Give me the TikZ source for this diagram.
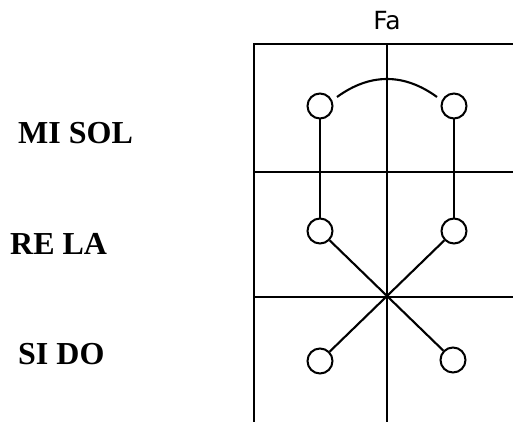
\documentclass[tikz,border=0pt]{standalone}
\usepackage{fontspec}
\setmainfont{Liberation Serif}
\newfontfamily\fasans{DejaVu Sans}
\begin{document}
\begin{tikzpicture}[x=1pt,y=-1pt,
  gridline/.style={line width=2.3pt},
  conn/.style={line width=2.1pt},
  hole/.style={circle,draw,line width=2pt,minimum size=25pt,inner sep=0pt,fill=white},
  notename/.style={font=\bfseries\fontsize{32}{32}\selectfont,inner sep=0pt,anchor=base west}]
\useasboundingbox (0,0) rectangle (513,422);
% grid
\coordinate (tl) at (254,44);
\coordinate (tr) at (513,44);
\coordinate (bl) at (254,422);
\coordinate (tc) at (387,44);
\coordinate (bc) at (387,422);
\coordinate (ml) at (254,172);
\coordinate (mr) at (513,172);
\coordinate (ll) at (254,297);
\coordinate (lr) at (513,297);
\draw[gridline] (bl) -- (tl) -- (tr);
\draw[gridline] (tc) -- (bc);
\draw[gridline] (ml) -- (mr);
\draw[gridline] (ll) -- (lr);
% label
\node[font=\fasans\fontsize{25}{25}\selectfont,inner sep=0pt,anchor=base] (fa) at (387,30) {Fa};
% holes
\node[hole] (t1) at (320,106) {};
\node[hole] (t2) at (454,106) {};
\node[hole] (m1) at (320,231) {};
\node[hole] (m2) at (454,231) {};
\node[hole] (b1) at (320,361) {};
\node[hole] (b2) at (453,360) {};
% connectors
\draw[conn] (t1) -- (m1);
\draw[conn] (t2) -- (m2);
\draw[conn] (m1) -- (b2);
\draw[conn] (m2) -- (b1);
\coordinate (a1) at (337,97);
\coordinate (a2) at (437,97);
\draw[conn] (a1) .. controls (370,73) and (404,73) .. (a2);
% note names
\node[notename] (ms) at (18,143) {MI SOL};
\node[notename] (rl) at (10,254) {RE LA};
\node[notename] (sd) at (18,364) {SI DO};
\end{tikzpicture}
\end{document}
